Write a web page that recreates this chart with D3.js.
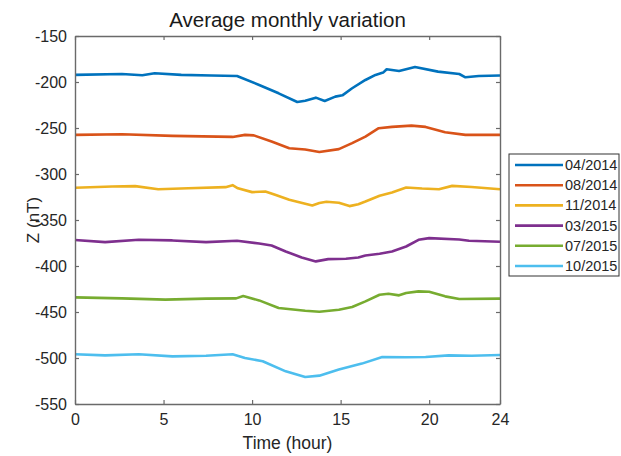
<!DOCTYPE html>
<html>
<head>
<meta charset="utf-8">
<script src="https://cdn.jsdelivr.net/npm/d3@7"></script>
<style>
  html, body { margin: 0; padding: 0; background: #fff; }
  svg { display: block; font-family: "Liberation Sans", Arial, sans-serif; }
</style>
</head>
<body>
<div id="chart"></div>
<script>
// Series labels (legend) and MATLAB default colours
const seriesNames = ['04/2014', '08/2014', '11/2014', '03/2015', '07/2015', '10/2015'];
const seriesColors = ['#0072BD', '#D95319', '#EDB120', '#7E2F8E', '#77AC30', '#4DBEEE'];

// Values: hour -> Z (nT)
const apr2014Hour = [0, 2.65, 3.8, 4.5, 6.0, 7.7, 9.15, 10.4, 11.5, 12.55, 13.0, 13.6, 14.1, 14.7, 15.1, 15.65, 16.4, 16.97, 17.4, 17.6, 18.3, 19.2, 20.5, 21.7, 22.05, 22.8, 24];
const apr2014Z = [-192.3, -191.3, -192.7, -190.5, -192.3, -193, -193.4, -203.2, -212.3, -221.7, -220.3, -217, -220.6, -215.9, -214.5, -206.8, -197.8, -192.3, -189.8, -186.2, -188, -183.7, -188.7, -191.3, -194.9, -193.4, -193];

const aug2014Hour = [0, 2.65, 5.5, 8.9, 9.6, 10.1, 11.1, 12.1, 13.0, 13.8, 14.9, 15.65, 16.4, 17.15, 17.9, 19.0, 19.8, 20.9, 22.05, 24];
const aug2014Z = [-257.5, -256.8, -258.6, -259.7, -257.5, -258, -264.7, -272, -273.4, -276, -273, -266.5, -259.3, -250.2, -248.8, -247.4, -248.8, -254.6, -257.5, -257.5];

const nov2014Hour = [0, 2.1, 3.4, 4.7, 6.4, 8.5, 8.9, 9.2, 10, 10.75, 11.3, 12.1, 13.4, 13.8, 14.2, 14.9, 15.5, 16.0, 16.4, 17.2, 17.9, 18.7, 19.6, 20.55, 21.3, 22.4, 24];
const nov2014Z = [-315, -313.6, -313.2, -316.5, -315.5, -314.3, -312.1, -315.5, -319.7, -319, -322.6, -328, -334.2, -331.6, -330.2, -331.2, -334.9, -332.8, -329.9, -323.7, -320.1, -314.7, -315.8, -316.5, -312.9, -314.2, -316.5];

const mar2015Hour = [0, 1.7, 3.6, 5.5, 7.4, 9.15, 10.4, 11.1, 11.9, 12.8, 13.6, 14.3, 15.3, 16.0, 16.4, 17.2, 17.9, 18.7, 19.4, 20.0, 21.7, 22.25, 24];
const mar2015Z = [-371.8, -374, -371.5, -372.2, -374, -372.5, -375.5, -377.7, -384.2, -390.7, -395, -392.5, -392.1, -390.7, -388.5, -386.7, -384.2, -378.8, -371.5, -369.7, -371.2, -372.5, -373.7];

const jul2015Hour = [0, 2.65, 5.1, 7.4, 9.1, 9.5, 10.4, 11.5, 13.0, 13.8, 14.9, 15.65, 16.4, 17.2, 17.7, 18.3, 18.7, 19.4, 20, 20.9, 21.7, 24];
const jul2015Z = [-434.1, -435.2, -436.6, -435.5, -435.2, -432.6, -437.4, -445.7, -448.6, -449.7, -447.5, -444.6, -438.5, -431.2, -430.1, -431.9, -429.4, -427.6, -428, -433, -435.9, -435.5];

const oct2015Hour = [0, 1.7, 3.6, 5.5, 7.4, 8.9, 9.6, 10.6, 11.9, 13.0, 13.8, 14.9, 16.2, 17.35, 18.7, 19.8, 21.1, 22.4, 24];
const oct2015Z = [-496, -497.1, -496, -498.2, -497.5, -496, -499.9, -503.6, -514.5, -520.6, -519.2, -512.6, -506.1, -498.9, -499.2, -498.9, -497.1, -497.5, -496.7];

const xTicks = [0, 5, 10, 15, 20, 24];
const yTicks = [-550, -500, -450, -400, -350, -300, -250, -200, -150];

const hours = [apr2014Hour, aug2014Hour, nov2014Hour, mar2015Hour, jul2015Hour, oct2015Hour];
const values = [apr2014Z, aug2014Z, nov2014Z, mar2015Z, jul2015Z, oct2015Z];

const width = 621, height = 456;
const plot = { left: 75, right: 500, top: 36, bottom: 404 };

const svg = d3.select('#chart').append('svg')
  .attr('width', width)
  .attr('height', height);

const x = d3.scaleLinear().domain([0, 24]).range([plot.left, plot.right]);
const y = d3.scaleLinear().domain([-550, -150]).range([plot.bottom, plot.top]);

// lines
const line = d3.line()
  .x(d => x(d[0]))
  .y(d => y(d[1]));

seriesNames.forEach((name, i) => {
  const pts = hours[i].map((h, j) => [h, values[i][j]]);
  svg.append('path')
    .datum(pts)
    .attr('fill', 'none')
    .attr('stroke', seriesColors[i])
    .attr('stroke-width', 2.6)
    .attr('stroke-linejoin', 'round')
    .attr('d', line);
});

// axes (MATLAB box with inward ticks), plain hyphen minus in labels
const axisColor = '#6a6a6a';
const tickLen = 4;
const plainNum = d => String(d);
const styleAxis = g => {
  g.select('.domain').attr('stroke', axisColor).attr('stroke-width', 1.4);
  g.selectAll('.tick line').attr('stroke', axisColor).attr('stroke-width', 1.2);
  g.selectAll('.tick text').attr('fill', '#262626').style('font-size', '16px');
};

svg.append('g')
  .attr('transform', `translate(0,${plot.bottom})`)
  .call(d3.axisBottom(x).tickValues(xTicks).tickFormat(plainNum).tickSizeInner(-tickLen).tickSizeOuter(0).tickPadding(10))
  .call(styleAxis);

svg.append('g')
  .attr('transform', `translate(0,${plot.top})`)
  .call(d3.axisTop(x).tickValues(xTicks).tickSizeInner(-tickLen).tickSizeOuter(0).tickFormat(''))
  .call(styleAxis);

svg.append('g')
  .attr('transform', `translate(${plot.left},0)`)
  .call(d3.axisLeft(y).tickValues(yTicks).tickFormat(plainNum).tickSizeInner(-tickLen).tickSizeOuter(0).tickPadding(8))
  .call(styleAxis);

svg.append('g')
  .attr('transform', `translate(${plot.right},0)`)
  .call(d3.axisRight(y).tickValues(yTicks).tickSizeInner(-tickLen).tickSizeOuter(0).tickFormat(''))
  .call(styleAxis);

// title and axis labels
svg.append('text')
  .attr('x', (plot.left + plot.right) / 2)
  .attr('y', 27)
  .attr('text-anchor', 'middle')
  .attr('fill', '#1a1a1a')
  .style('font-size', '20.5px')
  .text('Average monthly variation');

svg.append('text')
  .attr('x', (plot.left + plot.right) / 2)
  .attr('y', 449)
  .attr('text-anchor', 'middle')
  .attr('fill', '#262626')
  .style('font-size', '17.5px')
  .text('Time (hour)');

svg.append('text')
  .attr('transform', `translate(39,${(plot.top + plot.bottom) / 2}) rotate(-90)`)
  .attr('text-anchor', 'middle')
  .attr('fill', '#262626')
  .style('font-size', '17px')
  .text('Z (nT)');

// legend
const legend = svg.append('g').attr('transform', 'translate(509,154)');
legend.append('rect')
  .attr('width', 110)
  .attr('height', 122)
  .attr('fill', '#fff')
  .attr('stroke', '#333')
  .attr('stroke-width', 1);

const rowY = d3.scalePoint().domain(seriesNames).range([11, 112]);
seriesNames.forEach((name, i) => {
  const ry = rowY(name);
  legend.append('line')
    .attr('x1', 6).attr('x2', 54)
    .attr('y1', ry).attr('y2', ry)
    .attr('stroke', seriesColors[i])
    .attr('stroke-width', 2.6);
  legend.append('text')
    .attr('x', 56)
    .attr('y', ry)
    .attr('dy', '0.35em')
    .attr('fill', '#262626')
    .style('font-size', '14.5px')
    .text(name);
});
</script>
</body>
</html>
